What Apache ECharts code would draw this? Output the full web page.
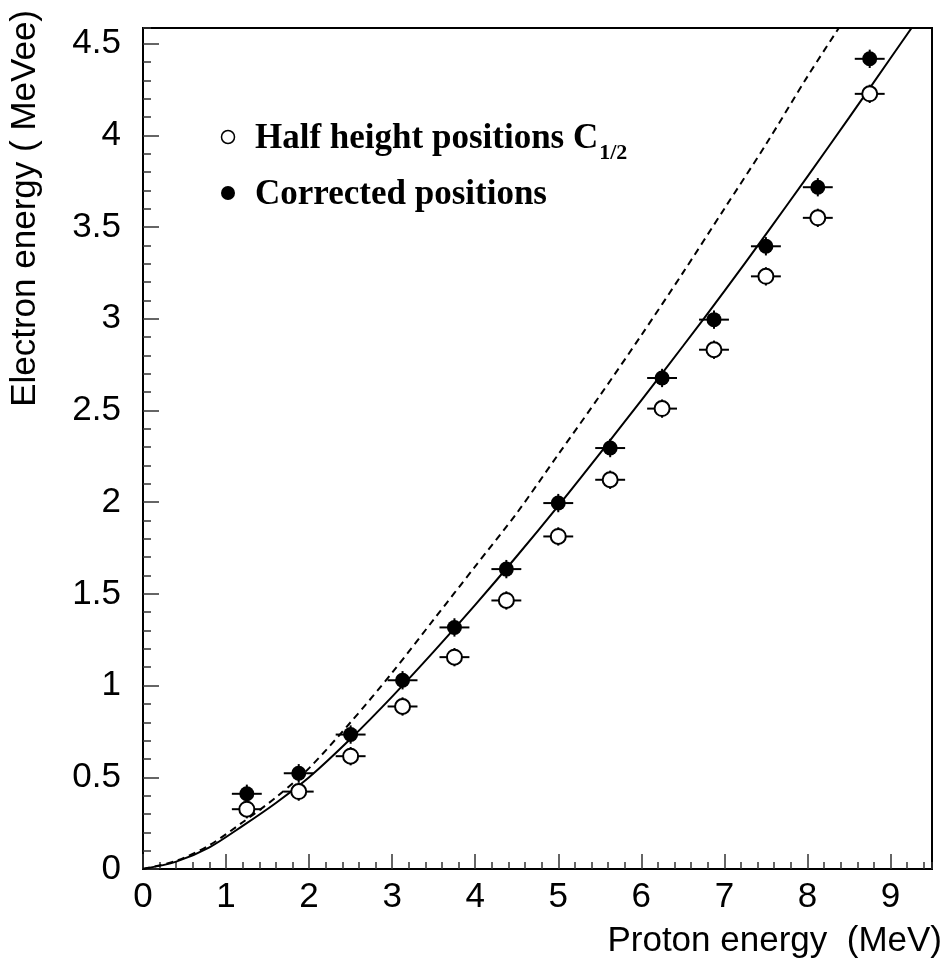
<!DOCTYPE html>
<html><head><meta charset="utf-8">
<script src="https://cdn.jsdelivr.net/npm/echarts@6/dist/echarts.min.js"></script>
<style>html,body{margin:0;padding:0;background:#fff}#c{width:947px;height:960px}</style>
</head><body><div id="c"></div>
<script>
// ---- data ----
const protonEnergy = [1.25, 1.875, 2.5, 3.125, 3.75, 4.375, 5, 5.625, 6.25, 6.875, 7.5, 8.125, 8.75];
const correctedPos = [0.41, 0.522, 0.733, 1.029, 1.317, 1.635, 1.995, 2.295, 2.677, 2.995, 3.395, 3.717, 4.417];
const halfHeightPos = [0.326, 0.422, 0.615, 0.886, 1.155, 1.464, 1.813, 2.122, 2.51, 2.831, 3.231, 3.55, 4.226];
const energyErr = [0.18, 0.18, 0.18, 0.18, 0.18, 0.18, 0.18, 0.18, 0.18, 0.18, 0.18, 0.18, 0.18];
const lightErr = [0.05, 0.05, 0.05, 0.05, 0.05, 0.05, 0.05, 0.05, 0.05, 0.05, 0.05, 0.05, 0.05];
const solidCurveX = [0, 0.4, 0.8, 1.2, 1.6, 2.0, 2.5, 3.0, 3.5, 4.0, 4.5, 5.0, 5.5, 6.0, 6.5, 7.0, 7.5, 8.0, 8.5, 9.0, 9.3];
const solidCurveY = [0, 0.04, 0.118, 0.235, 0.36, 0.5, 0.71, 0.94, 1.185, 1.44, 1.705, 1.98, 2.265, 2.555, 2.85, 3.15, 3.46, 3.775, 4.095, 4.42, 4.615];
const dashedCurveX = [0, 0.4, 0.8, 1.2, 1.6, 2.0, 2.5, 3.0, 3.5, 4.0, 4.5, 5.0, 5.5, 6.0, 6.5, 7.0, 7.5, 8.0, 8.4];
const dashedCurveY = [0, 0.045, 0.13, 0.255, 0.39, 0.55, 0.8, 1.07, 1.36, 1.65, 1.94, 2.26, 2.58, 2.91, 3.25, 3.6, 3.95, 4.32, 4.6];
const xTickLabels = ['0', '1', '2', '3', '4', '5', '6', '7', '8', '9'];
const yTickLabels = ['0', '0.5', '1', '1.5', '2', '2.5', '3', '3.5', '4', '4.5'];
const xTitle = 'Proton energy  (MeV)';
const yTitle = 'Electron energy ( MeVee)';
const legendOpen = 'Half height positions C';
const legendOpenSub = '1/2';
const legendFilled = 'Corrected positions';

// ---- chart ----
const X_MIN = 0, X_MAX = 9.5, Y_MIN = 0, Y_MAX = 4.585;
const labelFont = 'Liberation Sans';
const legendFontCss = 'bold 35px "Liberation Serif"';
const ctx = document.createElement('canvas').getContext('2d');
ctx.font = legendFontCss;
const subX = 255 + ctx.measureText(legendOpen).width + 1;

function xLab(v) { const i = Math.round(v); return Math.abs(v - i) < 1e-6 && xTickLabels[i] !== undefined ? xTickLabels[i] : ''; }
function yLab(v) { const i = Math.round(v * 2); return Math.abs(v * 2 - i) < 1e-6 && yTickLabels[i] !== undefined ? yTickLabels[i] : ''; }

function errItem(params, api) {
  const x = api.value(0), y = api.value(1), ex = api.value(2), ey = api.value(3);
  const l = api.coord([x - ex, y]), r = api.coord([x + ex, y]);
  const t = api.coord([x, y + ey]), b = api.coord([x, y - ey]);
  const st = { stroke: '#000', lineWidth: 2 };
  return { type: 'group', children: [
    { type: 'line', shape: { x1: l[0], y1: l[1], x2: r[0], y2: r[1] }, style: st },
    { type: 'line', shape: { x1: t[0], y1: t[1], x2: b[0], y2: b[1] }, style: st }
  ]};
}

const chart = echarts.init(document.getElementById('c'), null, { renderer: 'canvas' });
const axisCommon = { type: 'value', splitLine: { show: false } };
chart.setOption({
  animation: false,
  backgroundColor: '#fff',
  grid: { left: 143, right: 15, top: 28, bottom: 91, show: true, borderColor: '#000', borderWidth: 2, backgroundColor: 'transparent' },
  xAxis: [
    Object.assign({}, axisCommon, { min: X_MIN, max: X_MAX, interval: 1, position: 'bottom',
      axisLine: { show: true, lineStyle: { color: '#000', width: 2 } },
      axisTick: { show: true, inside: true, length: 15, lineStyle: { color: '#333', width: 1.5 } },
      axisLabel: { show: true, margin: 11, fontSize: 35, fontFamily: labelFont, color: '#000', formatter: xLab, showMaxLabel: false } }),
    Object.assign({}, axisCommon, { min: X_MIN, max: X_MAX, interval: 0.2, position: 'bottom',
      axisLine: { show: false },
      axisTick: { show: true, inside: true, length: 7, lineStyle: { color: '#333', width: 1.5 } },
      axisLabel: { show: false } })
  ],
  yAxis: [
    Object.assign({}, axisCommon, { min: Y_MIN, max: Y_MAX, interval: 0.5, position: 'left',
      axisLine: { show: true, lineStyle: { color: '#000', width: 2 } },
      axisTick: { show: true, inside: true, length: 16, lineStyle: { color: '#333', width: 1.5 } },
      axisLabel: { show: true, margin: 22, fontSize: 35, fontFamily: labelFont, color: '#000', formatter: yLab, showMaxLabel: false } }),
    Object.assign({}, axisCommon, { min: Y_MIN, max: Y_MAX, interval: 0.1, position: 'left',
      axisLine: { show: false },
      axisTick: { show: true, inside: true, length: 8, lineStyle: { color: '#333', width: 1.5 } },
      axisLabel: { show: false } })
  ],
  series: [
    { type: 'line', name: 'model', data: dashedCurveX.map((x, i) => [x, dashedCurveY[i]]), smooth: 0.3, showSymbol: false,
      lineStyle: { color: '#000', width: 2, type: [7, 5] }, clip: true, z: 1 },
    { type: 'line', name: 'fit', data: solidCurveX.map((x, i) => [x, solidCurveY[i]]), smooth: 0.3, showSymbol: false,
      lineStyle: { color: '#000', width: 2 }, clip: true, z: 1 },
    { type: 'custom', name: 'errCorr', renderItem: errItem, data: protonEnergy.map((x, i) => [x, correctedPos[i], energyErr[i], lightErr[i]]), z: 2 },
    { type: 'custom', name: 'errHalf', renderItem: errItem, data: protonEnergy.map((x, i) => [x, halfHeightPos[i], energyErr[i], lightErr[i]]), z: 2 },
    { type: 'scatter', name: legendOpen, data: protonEnergy.map((x, i) => [x, halfHeightPos[i]]), symbol: 'circle', symbolSize: 15,
      itemStyle: { color: '#fff', borderColor: '#000', borderWidth: 2, opacity: 1 }, z: 3 },
    { type: 'scatter', name: legendFilled, data: protonEnergy.map((x, i) => [x, correctedPos[i]]), symbol: 'circle', symbolSize: 15,
      itemStyle: { color: '#000', opacity: 1 }, z: 3 }
  ],
  graphic: [
    { type: 'text', x: 942, y: 941, style: { text: xTitle, font: '35px "Liberation Sans"', fill: '#000', align: 'right', verticalAlign: 'middle' } },
    { type: 'text', x: 25, y: 10, rotation: Math.PI / 2, style: { text: yTitle, font: '35px "Liberation Sans"', fill: '#000', align: 'right', verticalAlign: 'middle' } },
    { type: 'circle', shape: { cx: 228, cy: 137, r: 6.5 }, style: { fill: '#fff', stroke: '#000', lineWidth: 1.5 } },
    { type: 'text', x: 255, y: 139, style: { text: legendOpen, font: legendFontCss, fill: '#000', align: 'left', verticalAlign: 'middle' } },
    { type: 'text', x: subX, y: 153, style: { text: legendOpenSub, font: 'bold 22px "Liberation Serif"', fill: '#000', align: 'left', verticalAlign: 'middle' } },
    { type: 'circle', shape: { cx: 228, cy: 193, r: 7 }, style: { fill: '#000' } },
    { type: 'text', x: 255, y: 195, style: { text: legendFilled, font: legendFontCss, fill: '#000', align: 'left', verticalAlign: 'middle' } }
  ]
});
</script></body></html>
